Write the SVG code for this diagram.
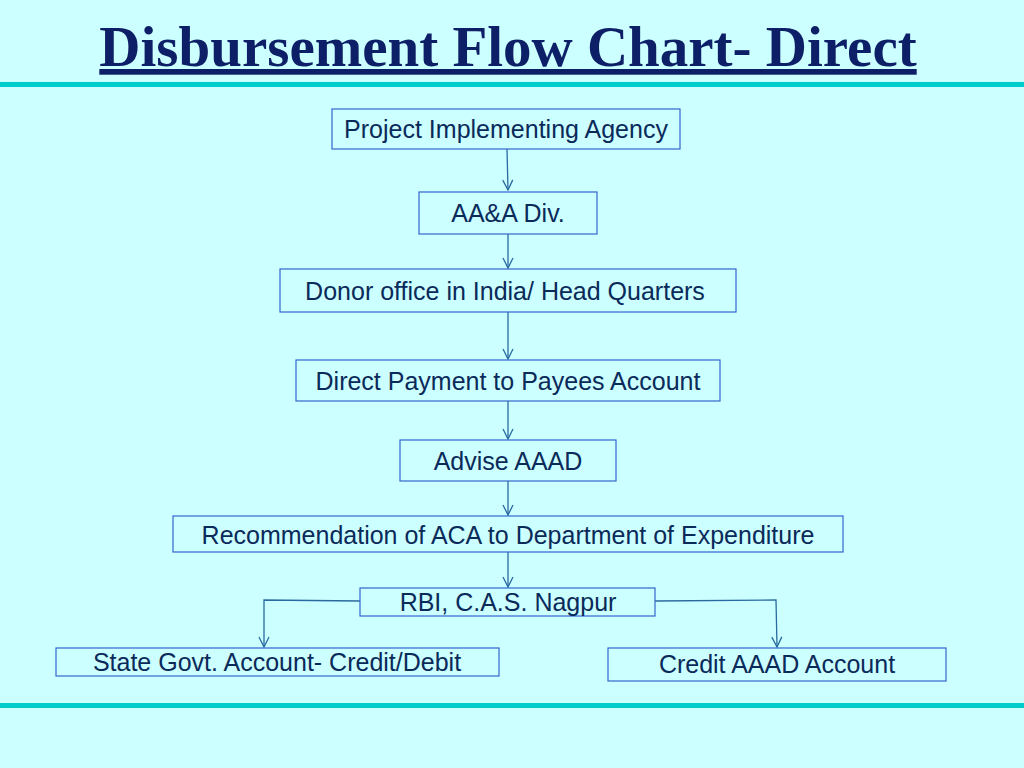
<svg xmlns="http://www.w3.org/2000/svg" width="1024" height="768" viewBox="0 0 1024 768">
<style>
.b{fill:#ccffff;stroke:#3366cc;stroke-width:1.2}
.t{font-family:"Liberation Sans",Arial,sans-serif;font-size:25px;fill:#0a2a5a;text-anchor:middle}
.c{fill:none;stroke:#2a6aa0;stroke-width:1.3}
</style>
<defs><marker id="a" markerWidth="12" markerHeight="12" refX="11" refY="6" orient="auto" markerUnits="userSpaceOnUse" viewBox="0 0 12 12"><path d="M1,1 L11,6 L1,11" fill="none" stroke="#2a6aa0" stroke-width="1.3"/></marker></defs>
<rect width="1024" height="768" fill="#ccffff"/>
<text x="508" y="66" font-family="Liberation Serif,serif" font-size="57" font-weight="bold" fill="#0d1f66" text-anchor="middle" text-decoration="underline">Disbursement Flow Chart- Direct</text>
<rect x="0" y="82" width="1024" height="5" fill="#00cccc"/>
<rect x="0" y="703" width="1024" height="5" fill="#00cccc"/>
<g id="connectors">
<path class="c" marker-end="url(#a)" d="M507,149 L508,190"/>
<path class="c" marker-end="url(#a)" d="M508,234 L508,268"/>
<path class="c" marker-end="url(#a)" d="M508,312 L508,359"/>
<path class="c" marker-end="url(#a)" d="M508,401 L508,439"/>
<path class="c" marker-end="url(#a)" d="M508,481 L508,515"/>
<path class="c" marker-end="url(#a)" d="M508,552 L508,587"/>
<path class="c" marker-end="url(#a)" d="M360,601 L264,600 L264,647"/>
<path class="c" marker-end="url(#a)" d="M655,601 L776,600 L777,647"/>
</g>
<g id="n1"><rect class="b" x="332" y="109" width="348" height="40"/><text class="t" x="506" y="138">Project Implementing Agency</text></g>
<g id="n2"><rect class="b" x="419" y="192" width="178" height="42"/><text class="t" x="508" y="222">AA&amp;A Div.</text></g>
<g id="n3"><rect class="b" x="280" y="269" width="456" height="43"/><text class="t" x="505" y="300">Donor office in India/ Head Quarters</text></g>
<g id="n4"><rect class="b" x="296" y="360" width="424" height="41"/><text class="t" x="508" y="390">Direct Payment to Payees Account</text></g>
<g id="n5"><rect class="b" x="400" y="440" width="216" height="41"/><text class="t" x="508" y="470">Advise AAAD</text></g>
<g id="n6"><rect class="b" x="173" y="516" width="670" height="36"/><text class="t" x="508" y="544">Recommendation of ACA to Department of Expenditure</text></g>
<g id="n7"><rect class="b" x="360" y="588" width="295" height="28"/><text class="t" x="508" y="611">RBI, C.A.S. Nagpur</text></g>
<g id="n8"><rect class="b" x="56" y="648" width="443" height="28"/><text class="t" x="277" y="671">State Govt. Account- Credit/Debit</text></g>
<g id="n9"><rect class="b" x="608" y="648" width="338" height="33"/><text class="t" x="777" y="673">Credit AAAD Account</text></g>
</svg>
